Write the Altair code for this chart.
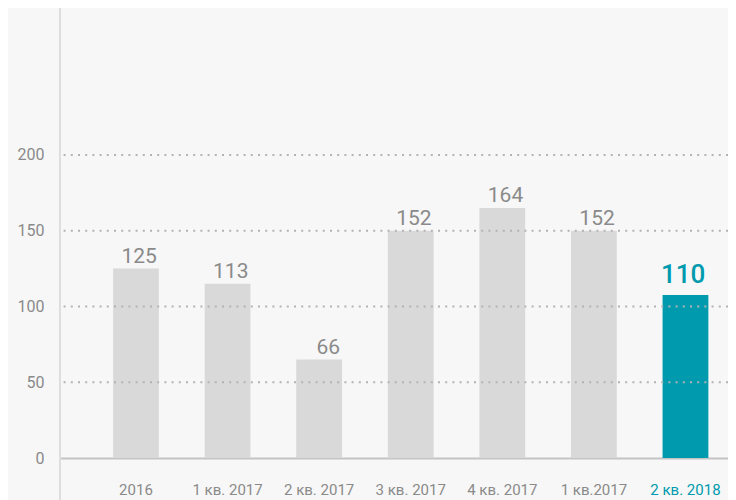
import altair as alt
import pandas as pd

categories = ["2016", "1 кв. 2017", "2 кв. 2017", "3 кв. 2017", "4 кв. 2017", "1 кв.2017", "2 кв. 2018"]
bar_heights = [125, 115, 65, 150, 165, 150, 107.5]
value_labels = ["125", "113", "66", "152", "164", "152", "110"]
highlight = [False, False, False, False, False, False, True]
grid_values = [50, 100, 150, 200]
y_ticks = [0, 50, 100, 150, 200]

GRAY_BAR = "#d9d9d9"
TEAL = "#009aae"
TEXT_GRAY = "#8a8a8a"
FONT = "Roboto"

df = pd.DataFrame({"cat": categories, "h": bar_heights, "label": value_labels, "hl": highlight})
grid_df = pd.DataFrame({"g": grid_values})
one_df = pd.DataFrame({"a": [0]})

W, H = 668, 450

x_scale = alt.Scale(domain=categories, paddingInner=0.5, paddingOuter=0.397, align=0.73)
y_scale = alt.Scale(domain=[0, 297], nice=False)

x_axis = alt.Axis(
    title=None, labelFont=FONT, labelFontSize=15, labelAngle=0,
    labelColor=alt.condition("datum.value == '2 кв. 2018'", alt.value(TEAL), alt.value(TEXT_GRAY)),
    labelPadding=24, ticks=False, domainColor="#c4c4c4", domainWidth=2, grid=False,
)
y_axis = alt.Axis(
    title=None, values=y_ticks, labelFont=FONT, labelFontSize=16, labelColor=TEXT_GRAY,
    labelPadding=16, ticks=False, domain=False, grid=False,
)

vline = alt.Chart(one_df).mark_rule(color="#dedede", strokeWidth=2).encode(
    x=alt.value(0), y=alt.value(0), y2=alt.value(H + 80)
)

bars = alt.Chart(df).mark_bar().encode(
    x=alt.X("cat:N", scale=x_scale, sort=categories, axis=x_axis),
    y=alt.Y("h:Q", scale=y_scale, axis=y_axis),
    color=alt.condition("datum.hl", alt.value(TEAL), alt.value(GRAY_BAR)),
)

grid = alt.Chart(grid_df).mark_rule(color="#b3b3b3", strokeDash=[2, 5.2], strokeWidth=2).encode(
    y=alt.Y("g:Q", scale=y_scale, axis=y_axis)
)

labels_gray = alt.Chart(df).transform_filter("!datum.hl").mark_text(
    align="right", baseline="alphabetic", dx=-2, dy=-6, fontSize=21, font=FONT, color=TEXT_GRAY
).encode(
    x=alt.X("cat:N", scale=x_scale, sort=categories, bandPosition=1, axis=x_axis),
    y=alt.Y("h:Q", scale=y_scale, axis=y_axis),
    text="label:N",
)

labels_hl = alt.Chart(df).transform_filter("datum.hl").mark_text(
    align="right", baseline="alphabetic", dx=-3, dy=-12, fontSize=26, fontWeight=500, font=FONT, color=TEAL
).encode(
    x=alt.X("cat:N", scale=x_scale, sort=categories, bandPosition=1, axis=x_axis),
    y=alt.Y("h:Q", scale=y_scale, axis=y_axis),
    text="label:N",
)

chart = alt.layer(vline, bars, grid, labels_gray, labels_hl).properties(
    width=W, height=H,
    padding={"left": 52, "top": 0, "right": 0, "bottom": 42},
    autosize="none",
    background="#f7f7f7",
).configure_view(stroke=None)

chart.save("out.html", embed_options={"renderer": "svg", "actions": False})
